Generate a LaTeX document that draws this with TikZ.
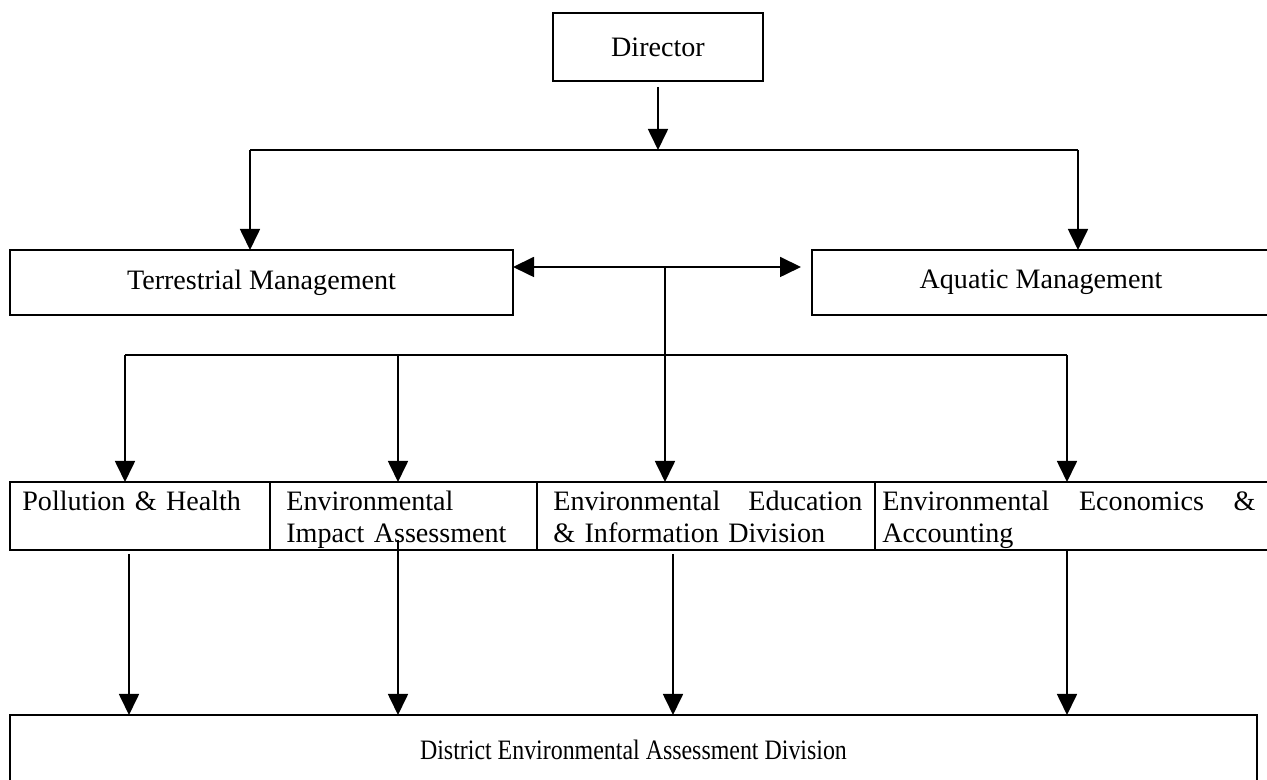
\documentclass[tikz,border=0pt]{standalone}
\usepackage{fontspec}
\setmainfont{Liberation Serif}
\newfontfamily\narrowserif[FakeStretch=0.85]{Liberation Serif}
\usetikzlibrary{arrows.meta}
\newcommand{\jgap}{\hskip 0pt plus 1fill\relax}

\begin{document}
\begin{tikzpicture}[
  font=\fontsize{16}{18.4}\selectfont,
  orgbox/.style={draw, line width=1pt, inner sep=0pt, outer sep=0pt},
  divtext/.style={anchor=north west, align=left, inner xsep=0pt, inner ysep=0.17cm},
  link/.style={line width=1pt},
  flow/.style={line width=1pt, -{Triangle[length=0.42cm, width=0.4cm]}},
]
\useasboundingbox (0,0) rectangle (25.34,15.6);

% Director
\node[orgbox, minimum width=4.2cm, minimum height=1.36cm] (director) at (13.16,14.66) {Director};

% Management boxes
\node[orgbox, minimum width=10.06cm, minimum height=1.3cm] (terr) at (5.23,9.95) {Terrestrial Management};
\node[orgbox, minimum width=9.16cm, minimum height=1.3cm] (aqua) at (20.82,9.95) {Aquatic Management};

% Director to management
\coordinate (busL) at (5.0,12.6);
\coordinate (busR) at (21.56,12.6);
\draw[link] (busL) -- (busR);
\draw[flow, shorten <=0.12cm] (director) -- (director |- busL);
\draw[flow] (busL) -- (busL |- terr.north);
\draw[flow] (busR) -- (busR |- aqua.north);

% Link between management boxes
\coordinate (hub) at (13.3,10.26);
\draw[link, {Triangle[length=0.42cm, width=0.4cm]}-{Triangle[length=0.42cm, width=0.4cm]}, shorten >=0.22cm]
  (terr.east |- hub) -- (aqua.west |- hub);

% Divisions
\node[orgbox, minimum width=5.2cm, minimum height=1.36cm] (pollution) at (2.8,5.28) {};
\node[orgbox, minimum width=5.34cm, minimum height=1.36cm] (eia) at (8.07,5.28) {};
\node[orgbox, minimum width=6.76cm, minimum height=1.36cm] (education) at (14.12,5.28) {};
\node[orgbox, minimum width=7.9cm, minimum height=1.36cm] (economics) at (21.45,5.28) {};

\node[divtext, text width=4.72cm] (pollutionText) at ([xshift=0.24cm]pollution.north west) {Pollution \& Health};
\node[divtext, text width=4.7cm] (eiaText) at ([xshift=0.32cm]eia.north west) {Environmental\\Impact Assessment};
\node[divtext, text width=6.18cm] (educationText) at ([xshift=0.32cm]education.north west) {Environmental\jgap Education\\\& Information Division};
\node[divtext, text width=7.46cm] (economicsText) at ([xshift=0.14cm]economics.north west) {Environmental\jgap Economics\jgap \&\\Accounting};

% Management to divisions
\coordinate (b1) at (2.5,8.5);
\coordinate (b2) at (7.96,8.5);
\coordinate (b4) at (21.34,8.5);
\draw[link] (b1) -- (b4);
\draw[flow] (b1) -- (b1 |- pollution.north);
\draw[flow] (b2) -- (b2 |- eia.north);
\draw[flow] (hub) -- (hub |- education.north);
\draw[flow] (b4) -- (b4 |- economics.north);

% District division
\node[orgbox, minimum width=24.94cm, minimum height=1.4cm] (district) at (12.67,0.6) {\narrowserif District Environmental Assessment Division};

\coordinate (d1) at (2.58,0);
\coordinate (d2) at (7.96,0);
\coordinate (d3) at (13.46,0);
\coordinate (d4) at (21.34,0);
\draw[flow, shorten <=0.08cm] (d1 |- pollution.south) -- (d1 |- district.north);
\draw[flow, shorten <=-0.2cm] (d2 |- eia.south) -- (d2 |- district.north);
\draw[flow, shorten <=0.08cm] (d3 |- education.south) -- (d3 |- district.north);
\draw[flow] (d4 |- economics.south) -- (d4 |- district.north);

\end{tikzpicture}
\end{document}
